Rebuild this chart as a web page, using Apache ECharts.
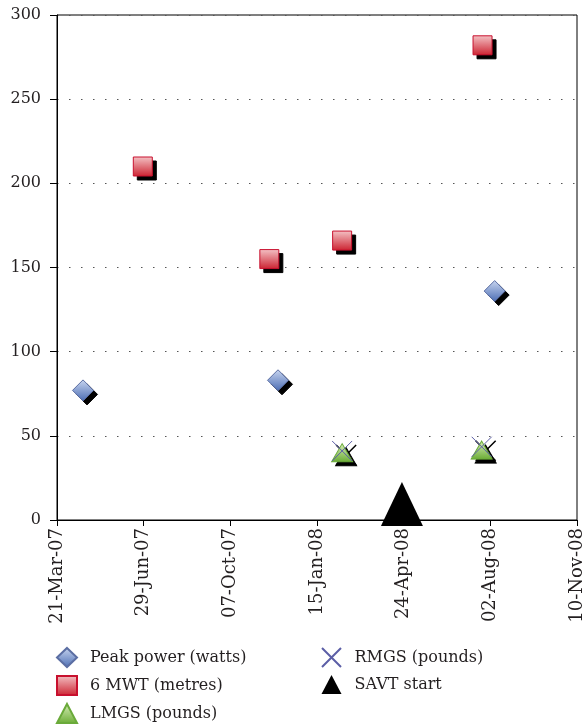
<!DOCTYPE html>
<html>
<head>
<meta charset="utf-8">
<script src="https://cdn.jsdelivr.net/npm/echarts@6/dist/echarts.min.js"></script>
<style>html,body{margin:0;padding:0;background:#fff}#c{width:586px;height:725px}</style>
</head>
<body>
<div id="c"></div>
<script>
const START_DATE = '2007-03-21';
const X_MAX_DAYS = 600;
const X_STEP_DAYS = 100;
const Y_TICKS = [0, 50, 100, 150, 200, 250, 300];

const peakPowerDates = ['2007-04-20', '2007-12-01', '2008-08-07'];
const peakPowerValues = [77, 83, 136];

const mwtDates = ['2007-06-28', '2007-11-21', '2008-02-13', '2008-07-24'];
const mwtValues = [210, 155, 166, 282];

const lmgsDates = ['2008-02-13', '2008-07-23'];
const lmgsValues = [40, 41.5];

const rmgsDates = ['2008-02-13', '2008-07-23'];
const rmgsValues = [41, 43.5];

const savtDates = ['2008-04-22'];
const savtValues = [9.5];

const MONTHS = ['Jan','Feb','Mar','Apr','May','Jun','Jul','Aug','Sep','Oct','Nov','Dec'];
const DAY_MS = 86400000;
const startMs = Date.parse(START_DATE);
const toDays = d => Math.round((Date.parse(d) - startMs) / DAY_MS);
const pairs = (dates, vals) => dates.map((d, i) => [toDays(d), vals[i]]);
function fmtDay(v) {
  const dt = new Date(startMs + v * DAY_MS);
  const dd = String(dt.getUTCDate()).padStart(2, '0');
  const yy = String(dt.getUTCFullYear() % 100).padStart(2, '0');
  return dd + '-' + MONTHS[dt.getUTCMonth()] + '-' + yy;
}

const FONT = 'DejaVu Serif';
const TXT = '#231f20';
const vgrad = (a, b) => ({type: 'linear', x: 0, y: 0, x2: 0, y2: 1, colorStops: [{offset: 0, color: a}, {offset: 1, color: b}]});
const CROSS = 'path://M0,0L10,10M10,0L0,10';

const markers = [
  {name: 'Peak power (watts)', symbol: 'diamond', size: 21, data: pairs(peakPowerDates, peakPowerValues),
   style: {color: vgrad('#c9d6f0', '#4a6cb3'), borderColor: '#5b6ea3', borderWidth: 1}, shadow: true},
  {name: '6 MWT (metres)', symbol: 'rect', size: 19, data: pairs(mwtDates, mwtValues),
   style: {color: vgrad('#f4c3c6', '#cc2230'), borderColor: '#c8102e', borderWidth: 1}, shadow: true},
  {name: 'LMGS (pounds)', symbol: 'triangle', size: [21, 18], data: pairs(lmgsDates, lmgsValues),
   style: {color: vgrad('#d9eebb', '#6aac34'), borderColor: '#6aaa3a', borderWidth: 1}, shadow: true},
  {name: 'RMGS (pounds)', symbol: CROSS, size: 20, data: pairs(rmgsDates, rmgsValues),
   style: {color: 'rgba(0,0,0,0)', borderColor: '#5b5ea6', borderWidth: 1}, shadow: true, line: true},
  {name: 'SAVT start', symbol: 'triangle', size: [42, 44], data: pairs(savtDates, savtValues),
   style: {color: '#000', borderColor: '#000', borderWidth: 0}, shadow: false}
];

const series = [];
markers.forEach(m => {
  if (m.shadow) {
    series.push({name: m.name + ' _shadow', type: 'scatter', symbol: m.symbol, symbolSize: m.size,
      symbolOffset: [4, 4], data: m.data, z: 1, silent: true,
      itemStyle: m.line ? {color: 'rgba(0,0,0,0)', borderColor: '#000', borderWidth: 1.5, opacity: 1}
                        : {color: '#000', borderColor: '#000', borderWidth: 1, opacity: 1},
      emphasis: {disabled: true}});
  }
});
markers.forEach(m => {
  series.push({name: m.name, type: 'scatter', symbol: m.symbol, symbolSize: m.size, data: m.data, z: 3,
    itemStyle: Object.assign({opacity: 1}, m.style), emphasis: {disabled: true}});
});

const chart = echarts.init(document.getElementById('c'), null, {renderer: 'canvas'});
const legendBase = {
  orient: 'vertical', padding: 0, itemWidth: 20, itemHeight: 19, itemGap: 7, height: 100,
  textStyle: {fontFamily: FONT, fontSize: 16, lineHeight: 19, color: TXT, padding: [0, 0, 0, 8]},
  selectedMode: false
};
chart.setOption({
  animation: false,
  backgroundColor: '#fff',
  grid: {left: 57, right: 8, top: 15, bottom: 205, show: true, borderColor: '#000', borderWidth: 1, backgroundColor: 'transparent'},
  legend: [
    Object.assign({}, legendBase, {left: 56, top: 647, data: ['Peak power (watts)', '6 MWT (metres)', 'LMGS (pounds)']}),
    Object.assign({}, legendBase, {left: 321, top: 647, data: ['RMGS (pounds)', 'SAVT start']})
  ],
  xAxis: {
    type: 'value', min: 0, max: X_MAX_DAYS, interval: X_STEP_DAYS,
    axisLine: {show: true, onZero: false, lineStyle: {color: '#000', width: 1}},
    axisTick: {show: true, length: 6, lineStyle: {color: '#000'}},
    splitLine: {show: false},
    axisLabel: {rotate: 90, margin: 8, fontFamily: FONT, fontSize: 18, color: TXT, formatter: v => fmtDay(v)}
  },
  yAxis: {
    type: 'value', min: Y_TICKS[0], max: Y_TICKS[Y_TICKS.length - 1], interval: Y_TICKS[1] - Y_TICKS[0],
    axisLine: {show: true, lineStyle: {color: '#000', width: 1}},
    axisTick: {show: true, length: 7, lineStyle: {color: '#000'}},
    splitLine: {show: true, lineStyle: {color: '#555', width: 1, type: [1.5, 10.5]}},
    axisLabel: {margin: 16, fontFamily: FONT, fontSize: 16, color: TXT}
  },
  series: series
});
</script>
</body>
</html>
